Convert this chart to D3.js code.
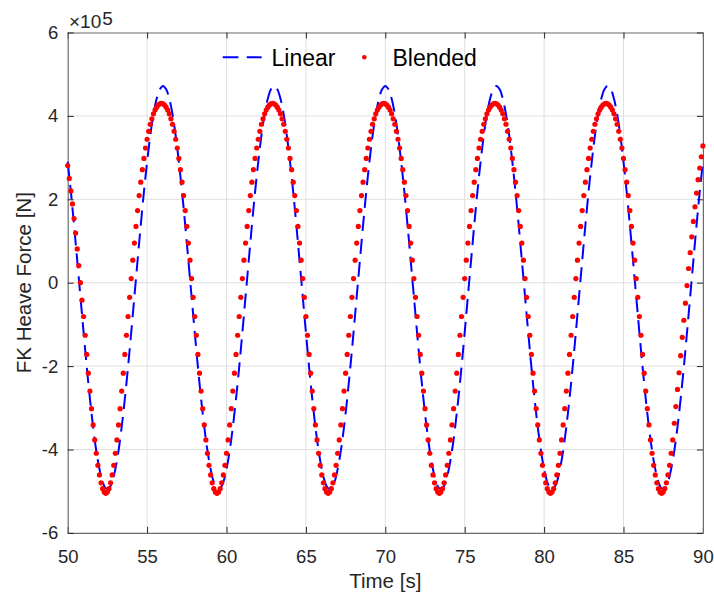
<!DOCTYPE html>
<html>
<head>
<meta charset="utf-8">
<script src="https://cdn.jsdelivr.net/npm/d3@7"></script>
<style>
  body { margin: 0; background: #fff; }
  svg { display: block; font-family: "Liberation Sans", Arial, Helvetica, sans-serif; }
</style>
</head>
<body>
<svg id="chart" width="714" height="600"></svg>
<script>
// sample times: t = tStart + i * step
const tStart = 50;
const linearStep = 0.2;
const blendedStep = 0.1;

// FK heave force, units of 1e5 N
const linearForce = [
  2.90, 2.18, 1.38, 0.53, -0.33, -1.19, -2.02, -2.78, -3.46, -4.03, -4.47, -4.78, -4.93, -4.93, -4.78, -4.47, -4.03, -3.46, -2.78, -2.02, -1.19, -0.33, 0.53, 1.38, 2.18, 2.90, 3.53, 4.04, 4.41, 4.64,
  4.72, 4.64, 4.41, 4.04, 3.53, 2.90, 2.18, 1.38, 0.53, -0.33, -1.19, -2.02, -2.78, -3.46, -4.03, -4.47, -4.78, -4.93, -4.93, -4.78, -4.47, -4.03, -3.46, -2.78, -2.02, -1.19, -0.33, 0.53, 1.38, 2.18, 2.90, 3.53, 4.04, 4.41, 4.64,
  4.72, 4.64, 4.41, 4.04, 3.53, 2.90, 2.18, 1.38, 0.53, -0.33, -1.19, -2.02, -2.78, -3.46, -4.03, -4.47, -4.78, -4.93, -4.93, -4.78, -4.47, -4.03, -3.46, -2.78, -2.02, -1.19, -0.33, 0.53, 1.38, 2.18, 2.90, 3.53, 4.04, 4.41, 4.64,
  4.72, 4.64, 4.41, 4.04, 3.53, 2.90, 2.18, 1.38, 0.53, -0.33, -1.19, -2.02, -2.78, -3.46, -4.03, -4.47, -4.78, -4.93, -4.93, -4.78, -4.47, -4.03, -3.46, -2.78, -2.02, -1.19, -0.33, 0.53, 1.38, 2.18, 2.90, 3.53, 4.04, 4.41, 4.64,
  4.72, 4.64, 4.41, 4.04, 3.53, 2.90, 2.18, 1.38, 0.53, -0.33, -1.19, -2.02, -2.78, -3.46, -4.03, -4.47, -4.78, -4.93, -4.93, -4.78, -4.47, -4.03, -3.46, -2.78, -2.02, -1.19, -0.33, 0.53, 1.38, 2.18, 2.90, 3.53, 4.04, 4.41, 4.64,
  4.72, 4.64, 4.41, 4.04, 3.53, 2.90, 2.18, 1.38, 0.53, -0.33, -1.19, -2.02, -2.78, -3.46, -4.03, -4.47, -4.78, -4.93, -4.93, -4.78, -4.47, -4.03, -3.46, -2.78, -2.02, -1.19, -0.33, 0.53, 1.38, 2.18, 2.90
];

const blendedForce = [
  2.81, 2.50, 2.20, 1.89, 1.54, 1.19, 0.81, 0.41, 0.00, -0.42,
  -0.81, -1.26, -1.72, -2.17, -2.60, -3.02, -3.41, -3.77, -4.09, -4.38, -4.61, -4.80, -4.94, -5.02, -5.05,
  -5.02, -4.94, -4.80, -4.61, -4.38, -4.09, -3.77, -3.41, -3.02, -2.60, -2.17, -1.72, -1.26, -0.81, -0.35, 0.10, 0.54, 0.95, 1.35, 1.73, 2.09, 2.41, 2.71, 2.98, 3.23, 3.44, 3.63, 3.80, 3.93, 4.05, 4.14, 4.21, 4.26, 4.29,
  4.30, 4.29, 4.26, 4.21, 4.14, 4.05, 3.93, 3.80, 3.63, 3.44, 3.23, 2.98, 2.71, 2.41, 2.09, 1.73, 1.35, 0.95, 0.54, 0.10, -0.35, -0.81, -1.26, -1.72, -2.17, -2.60, -3.02, -3.41, -3.77, -4.09, -4.38, -4.61, -4.80, -4.94, -5.02, -5.05, -5.02, -4.94, -4.80, -4.61, -4.38, -4.09, -3.77, -3.41, -3.02, -2.60, -2.17, -1.72, -1.26, -0.81, -0.35, 0.10, 0.54, 0.95, 1.35, 1.73, 2.09, 2.41, 2.71, 2.98, 3.23, 3.44, 3.63, 3.80, 3.93, 4.05, 4.14, 4.21, 4.26, 4.29,
  4.30, 4.29, 4.26, 4.21, 4.14, 4.05, 3.93, 3.80, 3.63, 3.44, 3.23, 2.98, 2.71, 2.41, 2.09, 1.73, 1.35, 0.95, 0.54, 0.10, -0.35, -0.81, -1.26, -1.72, -2.17, -2.60, -3.02, -3.41, -3.77, -4.09, -4.38, -4.61, -4.80, -4.94, -5.02, -5.05, -5.02, -4.94, -4.80, -4.61, -4.38, -4.09, -3.77, -3.41, -3.02, -2.60, -2.17, -1.72, -1.26, -0.81, -0.35, 0.10, 0.54, 0.95, 1.35, 1.73, 2.09, 2.41, 2.71, 2.98, 3.23, 3.44, 3.63, 3.80, 3.93, 4.05, 4.14, 4.21, 4.26, 4.29,
  4.30, 4.29, 4.26, 4.21, 4.14, 4.05, 3.93, 3.80, 3.63, 3.44, 3.23, 2.98, 2.71, 2.41, 2.09, 1.73, 1.35, 0.95, 0.54, 0.10, -0.35, -0.81, -1.26, -1.72, -2.17, -2.60, -3.02, -3.41, -3.77, -4.09, -4.38, -4.61, -4.80, -4.94, -5.02, -5.05, -5.02, -4.94, -4.80, -4.61, -4.38, -4.09, -3.77, -3.41, -3.02, -2.60, -2.17, -1.72, -1.26, -0.81, -0.35, 0.10, 0.54, 0.95, 1.35, 1.73, 2.09, 2.41, 2.71, 2.98, 3.23, 3.44, 3.63, 3.80, 3.93, 4.05, 4.14, 4.21, 4.26, 4.29,
  4.30, 4.29, 4.26, 4.21, 4.14, 4.05, 3.93, 3.80, 3.63, 3.44, 3.23, 2.98, 2.71, 2.41, 2.09, 1.73, 1.35, 0.95, 0.54, 0.10, -0.35, -0.81, -1.26, -1.72, -2.17, -2.60, -3.02, -3.41, -3.77, -4.09, -4.38, -4.61, -4.80, -4.94, -5.02, -5.05, -5.02, -4.94, -4.80, -4.61, -4.38, -4.09, -3.77, -3.41, -3.02, -2.60, -2.17, -1.72, -1.26, -0.81, -0.35, 0.10, 0.54, 0.95, 1.35, 1.73, 2.09, 2.41, 2.71, 2.98, 3.23, 3.44, 3.63, 3.80, 3.93, 4.05, 4.14, 4.21, 4.26, 4.29,
  4.30, 4.29, 4.26, 4.21, 4.14, 4.05, 3.93, 3.80, 3.63, 3.44, 3.23, 2.98, 2.71, 2.41, 2.09, 1.73, 1.35, 0.95, 0.54, 0.10, -0.35, -0.81, -1.26, -1.72, -2.17, -2.60, -3.02, -3.41, -3.77, -4.09, -4.38, -4.61, -4.80, -4.94, -5.02, -5.05, -5.02, -4.94, -4.80, -4.61, -4.38, -4.09, -3.77,
  -3.37, -2.97, -2.56, -2.16, -1.75, -1.31, -0.90, -0.49, -0.07, 0.34, 0.72, 1.10, 1.47, 1.82, 2.15, 2.47, 2.75, 3.02, 3.28
];

const xTicks = [50, 55, 60, 65, 70, 75, 80, 85, 90];
const yTicks = [-6, -4, -2, 0, 2, 4, 6];
const seriesNames = ['Linear', 'Blended'];

const svg = d3.select('#chart');
const plotLeft = 67.7, plotRight = 702.9, plotTop = 32.5, plotBottom = 532.9;
const axisColor = '#262626';

const x = d3.scaleLinear().domain([50, 90]).range([plotLeft, plotRight]);
const y = d3.scaleLinear().domain([-6, 6]).range([plotBottom, plotTop]);

// grid
const grid = svg.append('g').attr('stroke', '#e0e0e0').attr('stroke-width', 1);
grid.selectAll('.gx').data(xTicks.slice(1, -1)).enter().append('line')
  .attr('x1', d => x(d)).attr('x2', d => x(d)).attr('y1', plotTop).attr('y2', plotBottom);
grid.selectAll('.gy').data(yTicks.slice(1, -1)).enter().append('line')
  .attr('y1', d => y(d)).attr('y2', d => y(d)).attr('x1', plotLeft).attr('x2', plotRight);

// axes (ticks inward, box on)
function styleAxis(g) {
  g.attr('font-family', null).attr('font-size', null);
  g.select('.domain').attr('stroke', '#6b6b6b').attr('stroke-width', 1.2);
  g.selectAll('.tick line').attr('stroke', axisColor).attr('stroke-width', 1);
  g.selectAll('.tick text').attr('fill', axisColor).style('font-size', '18.5px');
}

svg.append('g').attr('transform', `translate(0,${plotBottom})`)
  .call(d3.axisBottom(x).tickValues(xTicks).tickSize(-6).tickSizeOuter(0).tickPadding(16.5).tickFormat(d3.format('d')))
  .call(styleAxis);
svg.append('g').attr('transform', `translate(0,${plotTop})`)
  .call(d3.axisTop(x).tickValues(xTicks).tickSize(-6).tickSizeOuter(0).tickFormat(''))
  .call(styleAxis);
svg.append('g').attr('transform', `translate(${plotLeft},0)`)
  .call(d3.axisLeft(y).tickValues(yTicks).tickSize(-6).tickSizeOuter(0).tickPadding(9.5).tickFormat(d => String(d)))
  .call(styleAxis);
svg.append('g').attr('transform', `translate(${plotRight},0)`)
  .call(d3.axisRight(y).tickValues(yTicks).tickSize(-6).tickSizeOuter(0).tickFormat(''))
  .call(styleAxis);

// exponent label
const expo = svg.append('text').attr('x', 69).attr('y', 28.3)
  .attr('fill', axisColor).style('font-size', '19px');
expo.append('tspan').text('\u00d710');
expo.append('tspan').attr('dy', -3.3).attr('dx', 1).text('5');

// axis labels
svg.append('text').attr('x', (plotLeft + plotRight) / 2).attr('y', 588)
  .attr('text-anchor', 'middle').attr('fill', axisColor).style('font-size', '20.5px')
  .text('Time [s]');
svg.append('text').attr('transform', `translate(30.5,${(plotTop + plotBottom) / 2}) rotate(-90)`)
  .attr('text-anchor', 'middle').attr('fill', axisColor).style('font-size', '20.5px')
  .text('FK Heave Force [N]');

// linear (dashed line)
const linearPts = linearForce.map((v, i) => [tStart + i * linearStep, v]);
svg.append('path')
  .datum(linearPts)
  .attr('fill', 'none')
  .attr('stroke', '#0000ff')
  .attr('stroke-width', 2)
  .attr('stroke-dasharray', '15,8')
  .attr('d', d3.line().x(d => x(d[0])).y(d => y(d[1])).curve(d3.curveCatmullRom));

// blended (dots)
const blendedPts = blendedForce.map((v, i) => [tStart + i * blendedStep, v]);
svg.append('g').attr('fill', '#ff0000')
  .selectAll('circle').data(blendedPts).enter().append('circle')
  .attr('cx', d => x(d[0]))
  .attr('cy', d => y(d[1]))
  .attr('r', 2.6);

// legend
const legend = svg.append('g');
legend.append('line')
  .attr('x1', 222.7).attr('x2', 261.7).attr('y1', 57.3).attr('y2', 57.3)
  .attr('stroke', '#0000ff').attr('stroke-width', 2).attr('stroke-dasharray', '15.7,8.3');
legend.append('text').attr('x', 271.5).attr('y', 65.5)
  .attr('fill', '#000').style('font-size', '23px').text(seriesNames[0]);
legend.append('circle').attr('cx', 364.3).attr('cy', 57.3).attr('r', 2.3).attr('fill', '#ff0000');
legend.append('text').attr('x', 392.5).attr('y', 65.5)
  .attr('fill', '#000').style('font-size', '23px').text(seriesNames[1]);
</script>
</body>
</html>
